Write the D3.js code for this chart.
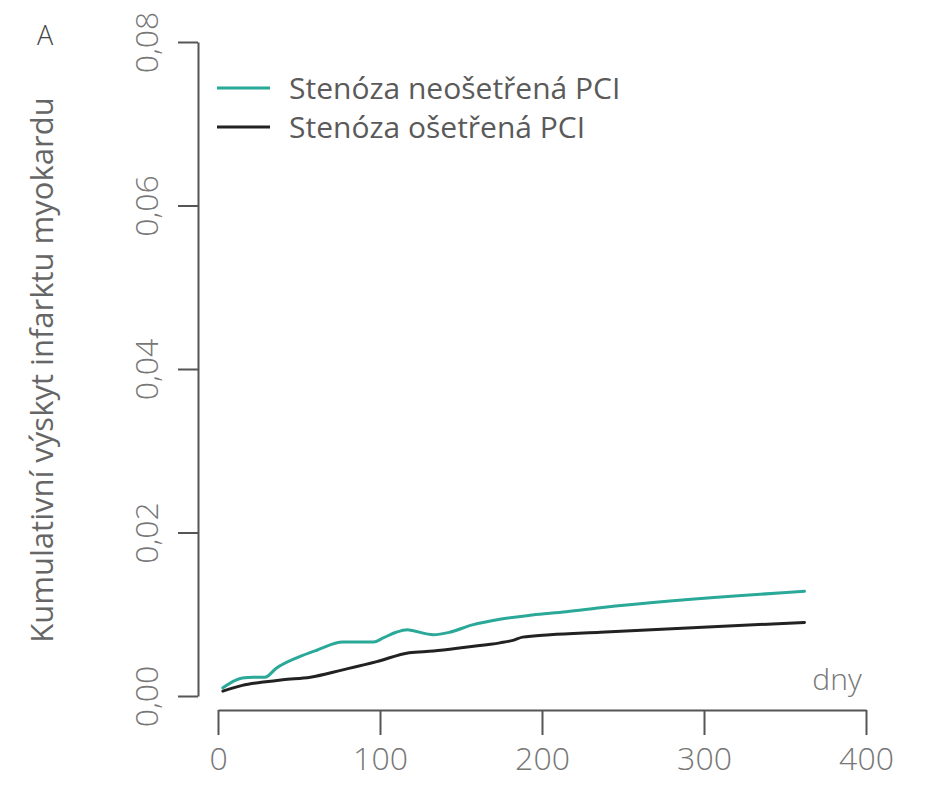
<!DOCTYPE html>
<html>
<head>
<meta charset="utf-8">
<script src="https://cdn.jsdelivr.net/npm/d3@7"></script>
<style>
    body { margin: 0; background: #fff; }
    svg text { font-family: "Open Sans", "Noto Sans", sans-serif; font-weight: 300; fill: #666; }
</style>
</head>
<body>
<svg width="933" height="800"></svg>
<script>
// days since PCI / cumulative MI incidence
var daysUntreated = [3, 15, 22, 29, 36, 49, 61, 77, 88, 96, 102, 110, 117, 120, 133, 143, 157, 174, 194, 215, 236, 362]
var valsUntreated = [0.0010, 0.0022, 0.0023, 0.0023, 0.0034, 0.0047, 0.0056, 0.0066, 0.0066, 0.0066, 0.0071, 0.0078, 0.0081, 0.0080, 0.0075, 0.0078, 0.0087, 0.0094, 0.0099, 0.0103, 0.0108, 0.0128]

var daysTreated = [3, 15, 28, 40, 57, 77, 98, 118, 133, 154, 174, 182, 188, 205, 236, 362]
var valsTreated = [0.0006, 0.0013, 0.0017, 0.0020, 0.0023, 0.0032, 0.0042, 0.0053, 0.0055, 0.0060, 0.0065, 0.0068, 0.0072, 0.0075, 0.0078, 0.0090]

var xTicks = [0, 100, 200, 300, 400]
var yTicks = [0, 0.02, 0.04, 0.06, 0.08]

var seriesNames = ['Stenóza neošetřená PCI', 'Stenóza ošetřená PCI']
var seriesColors = ['#2aa898', '#222222']

var svg = d3.select('svg')

var x = d3.scaleLinear().domain([0, 400]).range([218, 866])
var y = d3.scaleLinear().domain([0, 0.08]).range([696, 42])

var fmt = function (d) { return d3.format('.2f')(d).replace('.', ',') }

// x axis, drawn a bit below the plot
var gx = svg.append('g')
    .attr('transform', 'translate(0,710)')
    .call(d3.axisBottom(x).tickValues(xTicks).tickSize(25).tickSizeOuter(0).tickPadding(12))
gx.select('.domain').style('stroke', '#555').style('stroke-width', 2)
gx.selectAll('.tick line').style('stroke', '#555').style('stroke-width', 2)
gx.selectAll('.tick text').style('font-size', '32px').style('fill', '#777')

// y axis, labels rotated
var gy = svg.append('g')
    .attr('transform', 'translate(198,0)')
    .call(d3.axisLeft(y).tickValues(yTicks).tickSize(20).tickSizeOuter(0).tickFormat(fmt))
gy.select('.domain').style('stroke', '#555').style('stroke-width', 2)
gy.selectAll('.tick line').style('stroke', '#555').style('stroke-width', 2)
gy.selectAll('.tick text')
    .attr('x', null).attr('dy', null)
    .attr('transform', 'translate(-40,0) rotate(-90)')
    .attr('text-anchor', 'middle')
    .style('font-size', '32px').style('fill', '#777')

svg.selectAll('.domain, .tick line').style('fill', 'none')

var line = d3.line()
    .x(function (d) { return x(d[0]) })
    .y(function (d) { return y(d[1]) })
    .curve(d3.curveMonotoneX)

var series = [
    d3.zip(daysUntreated, valsUntreated),
    d3.zip(daysTreated, valsTreated)
]

svg.selectAll('path.series')
    .data(series)
    .enter()
    .append('path')
    .attr('class', 'series')
    .attr('d', line)
    .style('fill', 'none')
    .style('stroke', function (d, i) { return seriesColors[i] })
    .style('stroke-width', 3)
    .style('stroke-linecap', 'round')

// legend
var lg = svg.selectAll('g.legend')
    .data(seriesNames)
    .enter()
    .append('g')
    .attr('class', 'legend')
    .attr('transform', function (d, i) { return 'translate(217,' + (88 + i * 39) + ')' })
lg.append('line')
    .attr('x1', 0).attr('x2', 53)
    .style('stroke', function (d, i) { return seriesColors[i] })
    .style('stroke-width', 3)
lg.append('text')
    .attr('x', 72).attr('y', 11)
    .style('font-size', '30px')
    .style('font-weight', 400)
    .style('fill', '#5a5a5a')
    .text(function (d) { return d })

svg.append('text')
    .attr('transform', 'translate(53,370) rotate(-90)')
    .attr('text-anchor', 'middle')
    .style('font-size', '31px')
    .style('font-weight', 400)
    .style('fill', '#666')
    .text('Kumulativní výskyt infarktu myokardu')

svg.append('text')
    .attr('x', 837).attr('y', 690)
    .attr('text-anchor', 'middle')
    .style('font-size', '30px')
    .style('fill', '#777')
    .text('dny')

svg.append('text')
    .attr('x', 45).attr('y', 45)
    .attr('text-anchor', 'middle')
    .style('font-size', '27px')
    .style('fill', '#444')
    .text('A')
</script>
</body>
</html>
